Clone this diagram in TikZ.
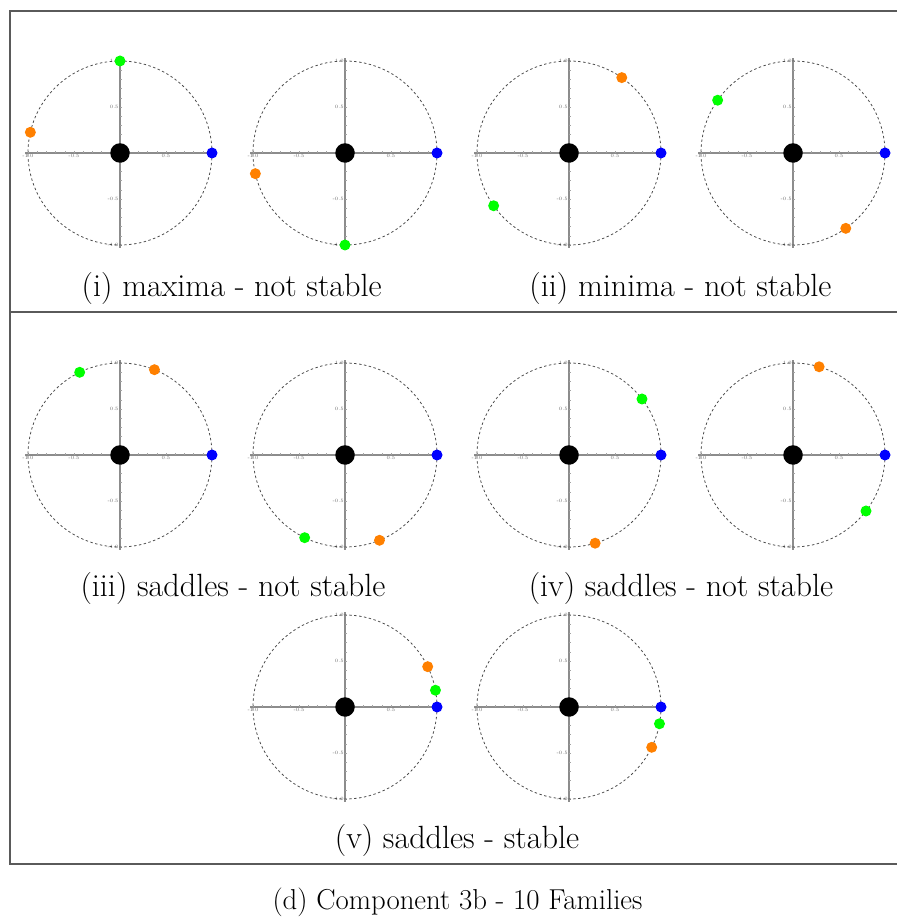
\documentclass[tikz,border=0pt]{standalone}
\usepackage{xcolor}
\usepackage{tikz}
\usetikzlibrary{arrows.meta, positioning, calc}
\definecolor{verde}{HTML}{00FF00}
\definecolor{naranja}{HTML}{FF8000}
\definecolor{azul}{HTML}{0000FF}
\definecolor{ejegris}{HTML}{8C8C8C}
\definecolor{marcogris}{HTML}{5A5A5A}
\tikzset{
  marco/.style={draw=marcogris, line width=0.7pt},
  eje/.style={draw=ejegris, line width=0.75pt},
  marca/.style={draw=ejegris!80, line width=0.3pt},
  orbita/.style={draw=black!70, line width=0.45pt, dash pattern=on 1.4pt off 1.4pt},
  masa/.style={circle, fill=black, inner sep=0pt, minimum size=0.39cm},
  cuerpo/.style={circle, inner sep=0pt, minimum size=0.22cm},
  rotulo/.style={font=\fontsize{2.8}{3}\selectfont, text=black!60, inner sep=0.6pt},
  leyenda/.style={font=\fontsize{18.3}{22}\selectfont, anchor=base, inner sep=0pt},
  titulo/.style={font=\fontsize{16.4}{19}\selectfont, anchor=base, inner sep=0pt},
}

\begin{document}
\begin{tikzpicture}[x=0.02cm, y=0.02cm]
  \useasboundingbox (0,0) rectangle (896,918);
  % marco de la figura
  \draw[marco] (10,907) rectangle (910,54);
  \draw[marco] (10,606) -- (910,606);
  % ejes y orbitas
  \foreach \n/\x/\y in {1/120/765, 2/345/765, 3/569/765, 4/793/765,
                        5/120/463, 6/345/463, 7/569/463, 8/793/463,
                        9/345/211, 10/569/211} {
    \coordinate (c\n) at (\x,\y);
    \draw[eje] ($(c\n)+(-95,0)$) -- ($(c\n)+(95,0)$);
    \draw[eje] ($(c\n)+(0,-95)$) -- ($(c\n)+(0,95)$);
    \foreach \t in {-10,...,10} {
      \draw[marca] ($(c\n)+(\t*9.2,0)$) -- ++(0,1.6);
      \draw[marca] ($(c\n)+(0,\t*9.2)$) -- ++(1.6,0);
    }
    \foreach \v/\s in {-1.0/-92, -0.5/-46, 0.5/46, 1.0/92} {
      \node[rotulo, below] (tx\n\s) at ($(c\n)+(\s,0)$) {\v};
      \node[rotulo, left] (ty\n\s) at ($(c\n)+(0,\s)$) {\v};
    }
    \draw[orbita] (c\n) circle (92);
    \node[masa] (m\n) at (c\n) {};
  }
  % cuerpos
  \foreach \n/\av/\an in {1/90/167, 2/270/193, 3/215/55, 4/145/305,
                          5/116/68, 6/244/292, 7/37.5/-73.5, 8/-37.5/73.5,
                          9/10.5/26, 10/-10.5/-26} {
    \node[cuerpo, fill=azul] (az\n) at ($(c\n)+(0:92)$) {};
    \node[cuerpo, fill=verde] (ve\n) at ($(c\n)+(\av:92)$) {};
    \node[cuerpo, fill=naranja] (na\n) at ($(c\n)+(\an:92)$) {};
  }
  % leyendas
  \node[leyenda] (l1) at (231.7,621) {(i) maxima - not stable};
  \node[leyenda] (l2) at (680.5,621) {(ii) minima - not stable};
  \node[leyenda] (l3) at (233,321) {(iii) saddles - not stable};
  \node[leyenda] (l4) at (681,321) {(iv) saddles - not stable};
  \node[leyenda] (l5) at (457,69) {(v) saddles - stable};
  \node[titulo] (tit) at (457.5,9) {(d) Component 3b - 10 Families};
\end{tikzpicture}
\end{document}
